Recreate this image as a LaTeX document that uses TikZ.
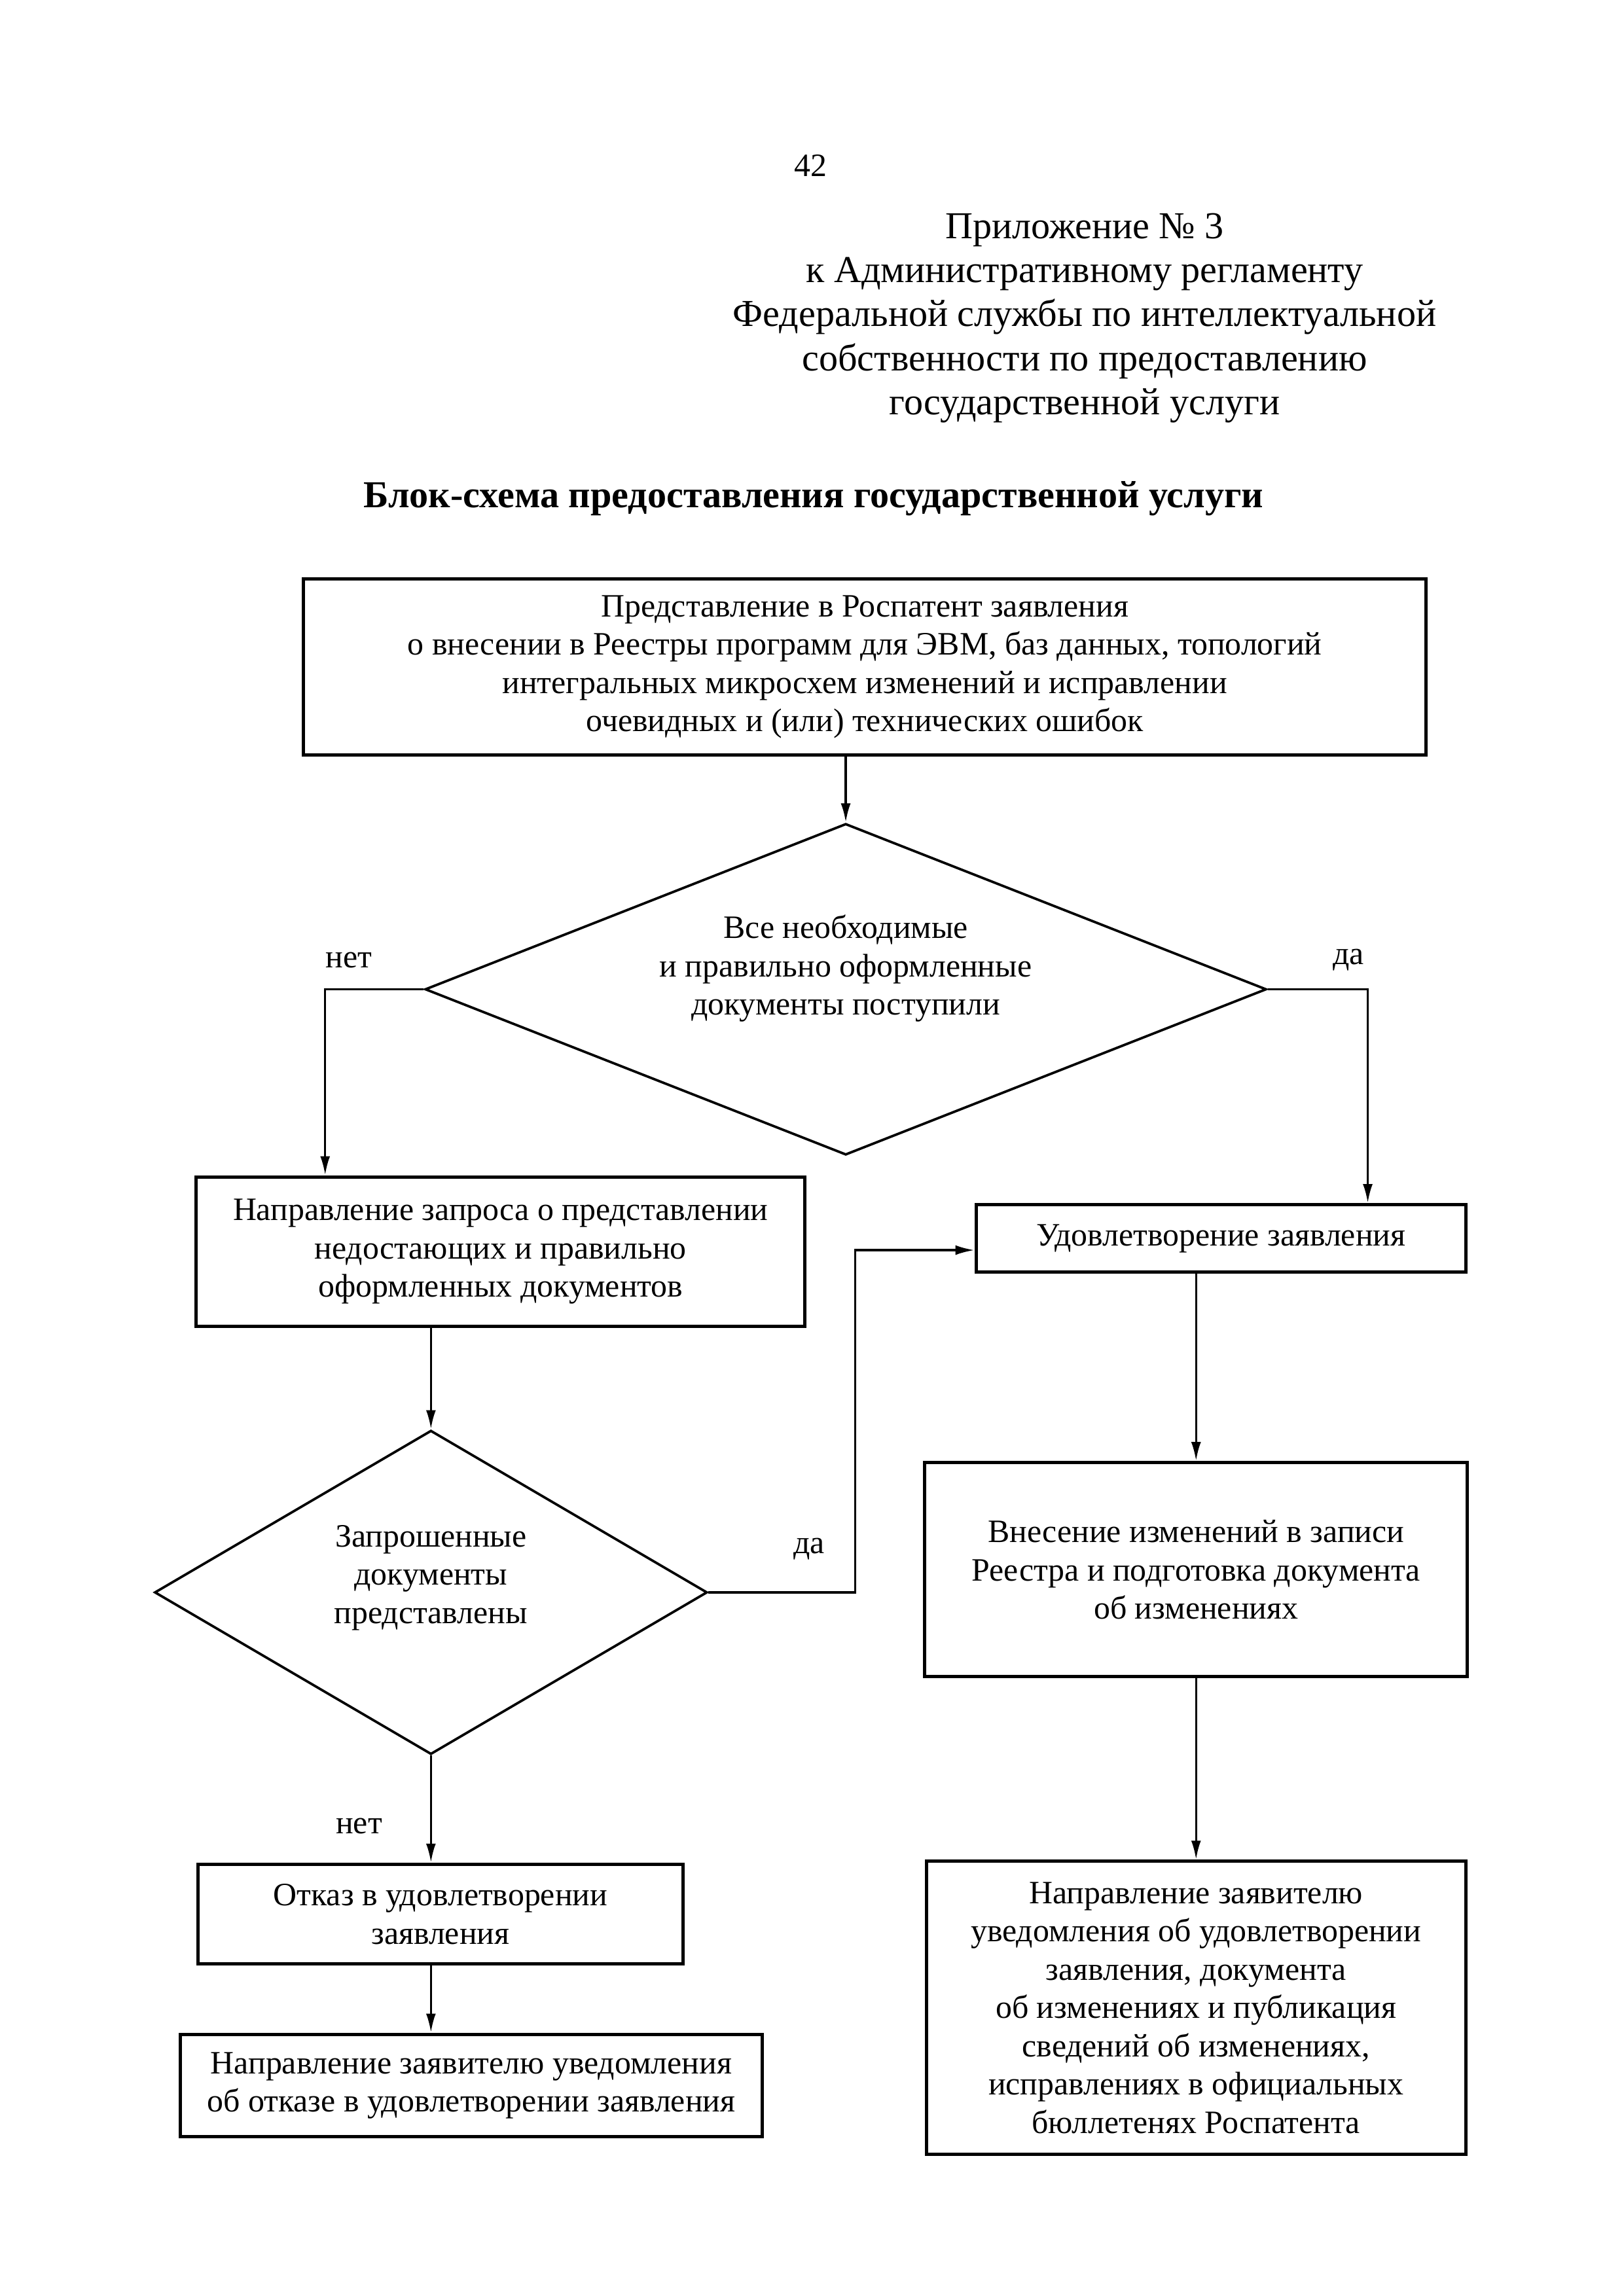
\documentclass[tikz,border=0pt]{standalone}
\usepackage{fontspec}
\setmainfont{Liberation Serif}
\usetikzlibrary{arrows.meta,shapes.geometric}

\begin{document}
\begin{tikzpicture}[x=0.018954cm,y=-0.018954cm,>={Latex[length=7pt,width=3.6pt]},
  box/.style={draw,rectangle,line width=1.2pt,align=center,inner sep=2pt,font=\fontsize{12}{14.1}\selectfont},
  decision/.style={draw,diamond,line width=0.9pt,inner sep=0pt},
  lbl/.style={font=\fontsize{12}{14.1}\selectfont}]

  \useasboundingbox (0,0) rectangle (1107.9,1566.6);

  % header
  \node[lbl] (page) at (553,113) {42};
  \node[align=center,font=\fontsize{14}{16.2}\selectfont] (head) at (740,217)
    {Приложение № 3\\к Административному регламенту\\Федеральной службы по интеллектуальной\\собственности по предоставлению\\государственной услуги};
  \node[font=\fontsize{14}{16.2}\selectfont\bfseries] (title) at (555,340) {Блок-схема предоставления государственной услуги};

  % blocks
  \node[box,minimum width=14.519cm,minimum height=2.275cm] (1) at (590,455)
    {Представление в Роспатент заявления\\о внесении в Реестры программ для ЭВМ, баз данных, топологий\\интегральных микросхем изменений и исправлении\\очевидных и (или) технических ошибок};
  \node[decision,minimum width=10.879cm,minimum height=4.284cm,
    label={[lbl,align=center,yshift=0.269cm]center:Все необходимые\\и правильно оформленные\\документы поступили}] (2) at (577,675) {};
  \node[box,minimum width=7.866cm,minimum height=1.933cm] (3) at (341.5,854)
    {Направление запроса о представлении\\недостающих и правильно\\оформленных документов};
  \node[box,minimum width=6.331cm,minimum height=0.872cm] (4) at (833,845) {Удовлетворение заявления};
  \node[decision,minimum width=7.146cm,minimum height=4.189cm,
    label={[lbl,align=center,yshift=0.19cm]center:Запрошенные\\документы\\представлены}] (5) at (294,1086.5) {};
  \node[box,minimum width=6.274cm,minimum height=1.289cm] (6) at (300.5,1306)
    {Отказ в удовлетворении\\заявления};
  \node[box,minimum width=7.524cm,minimum height=1.327cm] (7) at (321.5,1423)
    {Направление заявителю уведомления\\об отказе в удовлетворении заявления};
  \node[box,minimum width=7.013cm,minimum height=2.768cm] (8) at (816,1071)
    {Внесение изменений в записи\\Реестра и подготовка документа\\об изменениях};
  \node[box,minimum width=6.975cm,minimum height=3.791cm] (9) at (816,1370)
    {Направление заявителю\\уведомления об удовлетворении\\заявления, документа\\об изменениях и публикация\\сведений об изменениях,\\исправлениях в официальных\\бюллетенях Роспатента};

  % labels
  \node[lbl] (no1) at (238,655) {нет};
  \node[lbl] (yes1) at (920,655) {да};
  \node[lbl] (yes2) at (552,1057) {да};
  \node[lbl] (no2) at (245,1246) {нет};

  % connectors
  \path [->,draw,thick] (1.south -| 2.north) -- (2.north);
  \path [->,draw,thick] (2.west) -| ([xshift=1.686cm]3.north west);
  \path [->,draw,thick] (2.east) -| ([xshift=-1.289cm]4.north east);
  \path [->,draw,thick] (3.south -| 5.north) -- (5.north);
  \path [->,draw,thick] (5.east) -- ++(100,0) |- ([yshift=-0.151cm]4.west);
  \path [->,draw,thick] (5.south) -- (5.south |- 6.north);
  \path [->,draw,thick] (6.south -| 5.south) -- (7.north -| 5.south);
  \path [->,draw,thick] (4.south -| 8.north) -- (8.north);
  \path [->,draw,thick] (8.south) -- (9.north);

\end{tikzpicture}
\end{document}
